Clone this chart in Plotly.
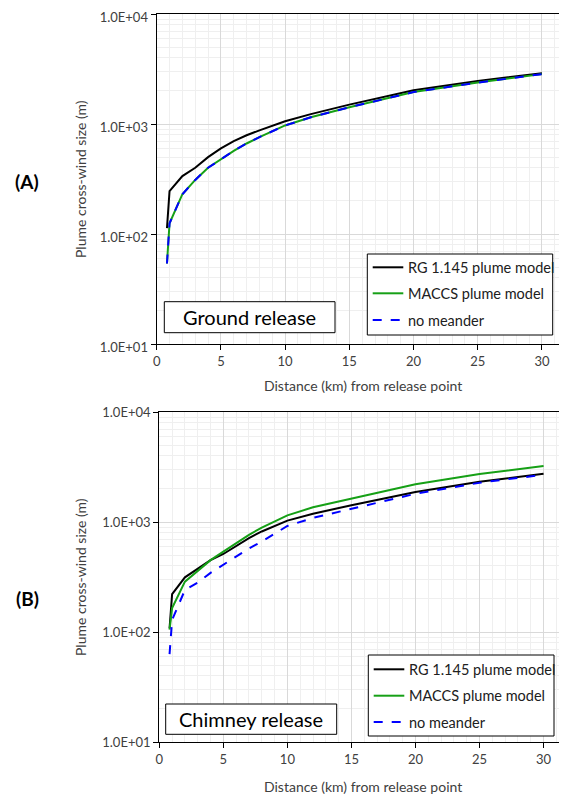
import plotly.graph_objects as go

# ---- data ----
distance_km = [0.8, 1, 2, 3, 4, 5, 6, 7, 8, 10, 12, 15, 20, 25, 30]

# (A) Ground release
ground_rg = [113, 245, 336, 400, 500, 600, 700, 790, 875, 1060, 1230, 1500, 2030, 2460, 2900]
ground_maccs = [54, 125, 230, 310, 400, 480, 570, 665, 760, 970, 1150, 1420, 1950, 2380, 2840]
ground_nomeander = [54, 125, 230, 310, 400, 480, 570, 665, 760, 970, 1150, 1420, 1950, 2380, 2840]

# (B) Chimney release
chimney_rg = [108, 221, 314, 379, 450, 512, 610, 715, 820, 1030, 1190, 1420, 1874, 2323, 2749]
chimney_maccs = [105, 165, 287, 360, 450, 537, 640, 765, 890, 1150, 1360, 1620, 2200, 2729, 3228]
chimney_nomeander = [63, 129, 241, 281, 345, 410, 490, 575, 665, 920, 1090, 1315, 1806, 2276, 2690]

series_names = ["RG 1.145 plume model", "MACCS plume model", "no meander"]
y_ticks = [10, 100, 1000, 10000]
y_tick_labels = ["1.0E+01", "1.0E+02", "1.0E+03", "1.0E+04"]
x_ticks = [0, 5, 10, 15, 20, 25, 30]
panel_labels = ["(A)", "(B)"]
box_labels = ["Ground release", "Chimney release"]
x_title = "Distance (km) from release point"
y_title = "Plume cross-wind size (m)"

# the page body adds an 8px offset; lay out in window pixels and compensate
OFF = 8
W, H = 567 - OFF, 796 - OFF
FONT = "Lato"
TXT = "#404040"

colors = ["#000000", "#16a016", "#0000ff"]
dashes = ["solid", "solid", "dash"]


def px(x):
    return (x - OFF) / W


def py(y):
    return 1 - (y - OFF) / H


fig = go.Figure()

panels = [
    dict(left=156.7, top=14, bottom=344, xmax=31.95, xa="x", ya="y",
         data=[ground_rg, ground_maccs, ground_nomeander],
         legbox=(367.3, 254, 552.7, 335), legy=[267.3, 293.3, 320], linex=(372.7, 403.3),
         box=(164.3, 301.7, 335, 332.7), label_y=181, xtitle_y=386),
    dict(left=159.3, top=412, bottom=742, xmax=31.83, xa="x2", ya="y2",
         data=[chimney_rg, chimney_maccs, chimney_nomeander],
         legbox=(368.3, 655, 554, 736), legy=[669.3, 695.7, 722], linex=(373.7, 404.3),
         box=(165.7, 704, 336.7, 734.3), label_y=598, xtitle_y=786),
]

minor_y = []
for dec in [10, 100, 1000]:
    for k in range(2, 10):
        minor_y.append(dec * k)

for pi, p in enumerate(panels):
    for si in [0, 1, 2]:
        fig.add_trace(go.Scatter(
            x=distance_km, y=p["data"][si], mode="lines", name=series_names[si],
            line=dict(color=colors[si], width=2, dash=dashes[si]),
            xaxis=p["xa"], yaxis=p["ya"], showlegend=False,
        ))


def xaxis_cfg(p, anchor):
    return dict(
        domain=[px(p["left"]), 1.0], range=[0, p["xmax"]], anchor=anchor,
        tickvals=x_ticks, ticks="outside", ticklen=5, tickcolor="#000000",
        showline=True, linecolor="#000000", linewidth=1.3, mirror=True,
        showgrid=True, gridcolor="#d9d9d9", gridwidth=1,
        minor=dict(dtick=1, showgrid=True, gridcolor="#efefef", gridwidth=1, ticks=""),
        tickfont=dict(family=FONT, size=13, color=TXT), zeroline=False,
        ticklabeloverflow="allow",
    )


def yaxis_cfg(p, anchor, mirror, shift):
    return dict(
        domain=[py(p["bottom"]), py(p["top"])], type="log", range=[1, 4],
        anchor=anchor, tickvals=y_ticks, ticktext=y_tick_labels,
        ticks="outside", ticklen=5, tickcolor="#000000",
        showline=True, linecolor="#000000", linewidth=1.3, mirror=mirror,
        showgrid=True, gridcolor="#d9d9d9", gridwidth=1,
        minor=dict(tickvals=minor_y, showgrid=True, gridcolor="#efefef", gridwidth=1, ticks=""),
        tickfont=dict(family=FONT, size=13, color=TXT), zeroline=False,
        ticklabeloverflow="allow", ticklabelshift=shift,
    )


fig.update_layout(
    width=W, height=H, margin=dict(l=0, r=0, t=0, b=0, autoexpand=False),
    paper_bgcolor="white", plot_bgcolor="white",
    xaxis=xaxis_cfg(panels[0], "y"),
    yaxis=yaxis_cfg(panels[0], "x", True, 3),
    xaxis2=xaxis_cfg(panels[1], "y2"),
    yaxis2=yaxis_cfg(panels[1], "x2", False, 0),
    showlegend=False,
)

for pi, p in enumerate(panels):
    # legend box
    lx0, ly0, lx1, ly1 = p["legbox"]
    fig.add_shape(type="rect", xref="paper", yref="paper",
                  x0=px(lx0), x1=px(lx1), y0=py(ly1), y1=py(ly0),
                  line=dict(color="#000000", width=1), fillcolor="white", layer="above")
    for si in range(3):
        yy = p["legy"][si]
        fig.add_shape(type="line", xref="paper", yref="paper",
                      x0=px(p["linex"][0]), x1=px(p["linex"][1]), y0=py(yy), y1=py(yy),
                      line=dict(color=colors[si], width=2, dash=dashes[si]), layer="above")
        fig.add_annotation(xref="paper", yref="paper", x=px(p["linex"][1] + 2.5), y=py(yy),
                           text=series_names[si], showarrow=False,
                           font=dict(family=FONT, size=14.5, color="#202020"),
                           xanchor="left", yanchor="middle")
    # release-type box
    x0, y0, x1, y1 = p["box"]
    fig.add_shape(type="rect", xref="paper", yref="paper",
                  x0=px(x0), x1=px(x1), y0=py(y1), y1=py(y0),
                  line=dict(color="#000000", width=1), fillcolor="white", layer="above")
    fig.add_annotation(xref="paper", yref="paper", x=px((x0 + x1) / 2), y=py((y0 + y1) / 2),
                       text=box_labels[pi], showarrow=False,
                       font=dict(family=FONT, size=20, color="#000000"),
                       xanchor="center", yanchor="middle")
    # axis titles
    fig.add_annotation(xref="paper", yref="paper", x=px(80), y=py((p["top"] + p["bottom"]) / 2),
                       text=y_title, showarrow=False, textangle=-90,
                       font=dict(family=FONT, size=14, color=TXT),
                       xanchor="center", yanchor="middle")
    fig.add_annotation(xref="paper", yref="paper", x=px(363),
                       y=py(p["xtitle_y"]),
                       text=x_title, showarrow=False,
                       font=dict(family=FONT, size=14, color=TXT),
                       xanchor="center", yanchor="middle")
    # panel label
    fig.add_annotation(xref="paper", yref="paper", x=px(27), y=py(p["label_y"]),
                       text="<b>" + panel_labels[pi] + "</b>", showarrow=False,
                       font=dict(family=FONT, size=19, color="#000000"),
                       xanchor="center", yanchor="middle")

fig.write_html("out.html")
